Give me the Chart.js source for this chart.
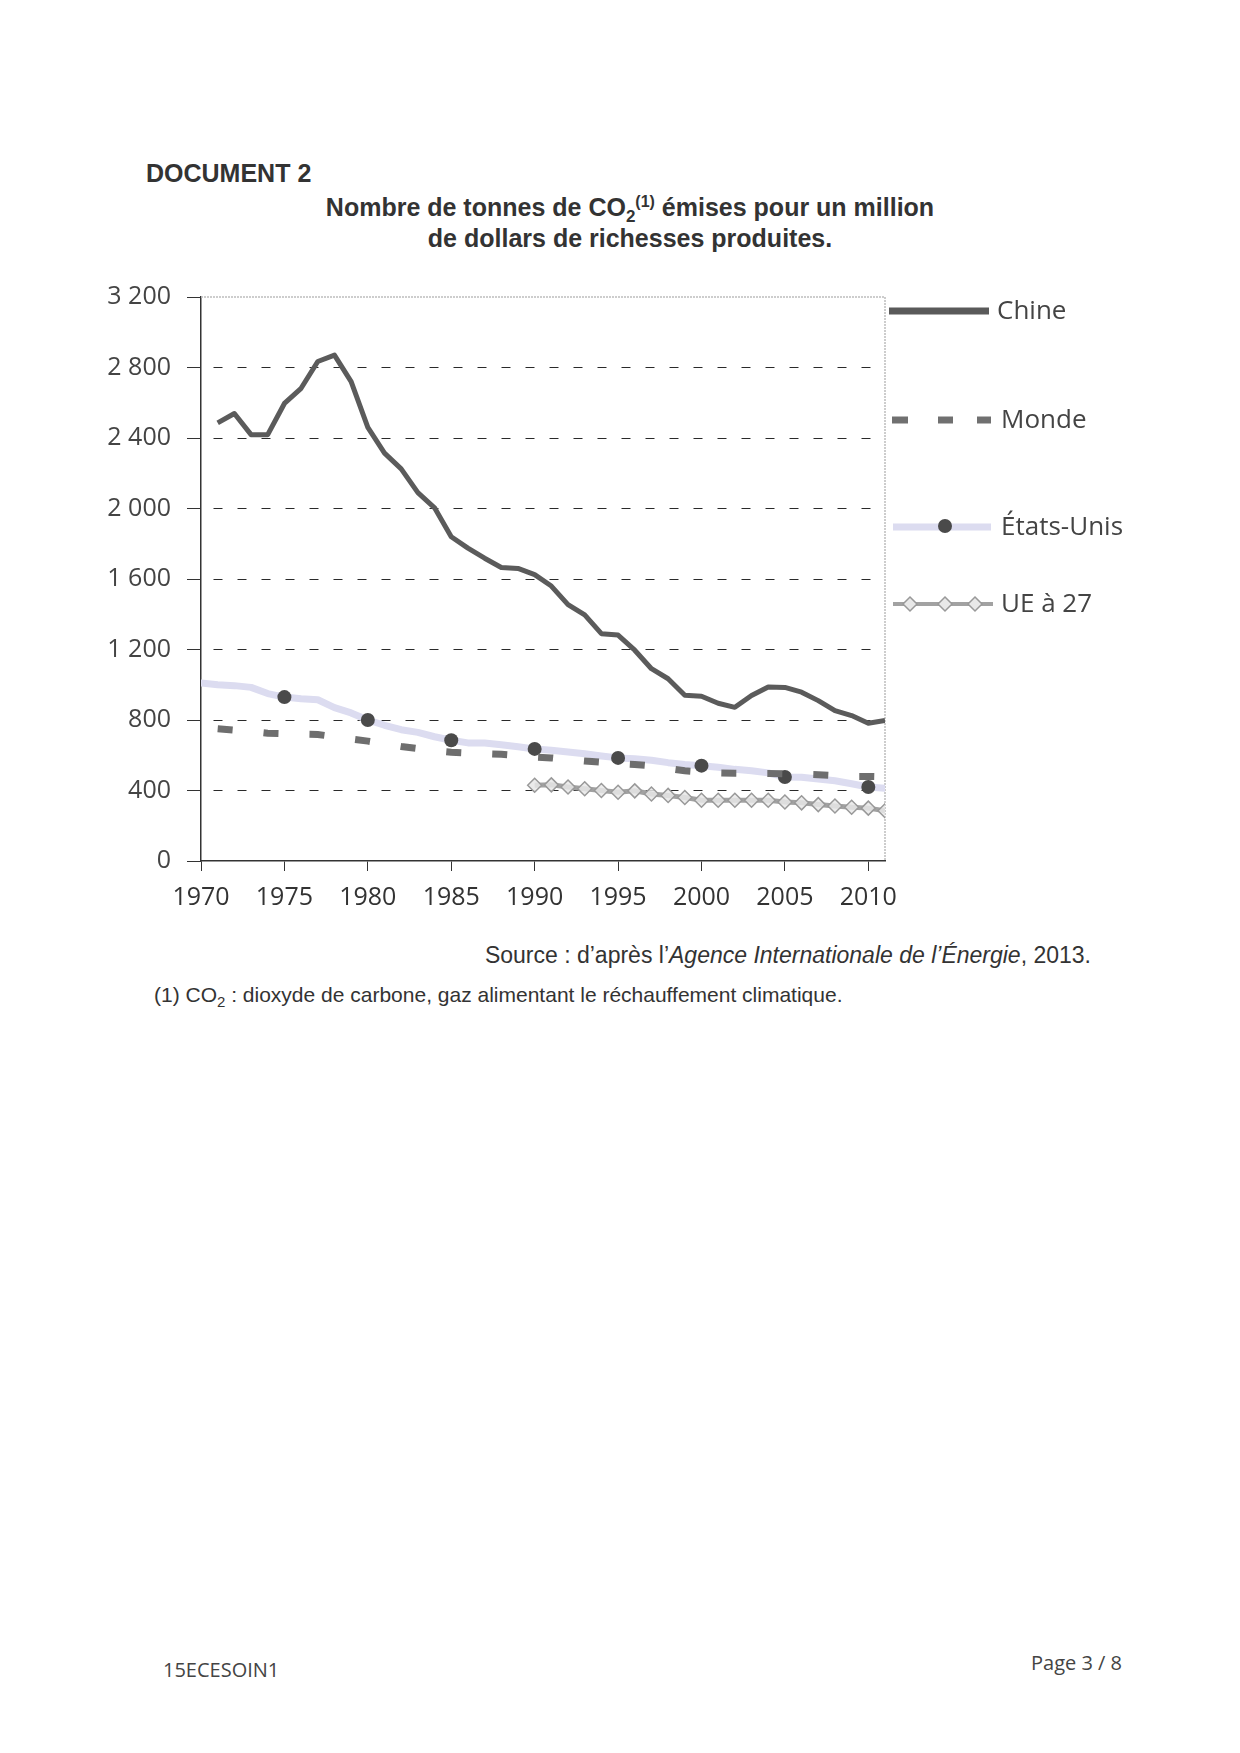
<!DOCTYPE html>
<html lang="fr">
<head>
<meta charset="utf-8">
<script src="https://cdn.jsdelivr.net/npm/chart.js@4/dist/chart.umd.min.js"></script>
<style>
  html, body { margin: 0; padding: 0; background: #fff; }
  body { width: 1240px; height: 1753px; position: relative; font-family: "Liberation Sans", Arial, sans-serif; color: #333; }
  .abs { position: absolute; white-space: nowrap; }
  sub, sup { line-height: 0; }
  #doc { left: 146px; top: 159px; font-size: 25px; font-weight: bold; }
  #title { left: 0; width: 1260px; top: 192px; font-size: 25px; font-weight: bold; text-align: center; line-height: 31px; }
  #chartBox { left: 90px; top: 266px; width: 825px; height: 655px; }
  .leg { position: absolute; font-family: "Open Sans", sans-serif; font-size: 26px; color: #444; white-space: nowrap; }
  .leg svg { position: absolute; left: 0; }
  .leg span { position: absolute; white-space: nowrap; }
  #source { right: 149px; top: 942px; font-size: 23px; }
  #note { left: 154px; top: 983px; font-size: 21px; }
  #code { left: 163px; top: 1656px; font-size: 20px; font-family: "Open Sans", sans-serif; color: #444; }
  #page { left: 1031px; top: 1649px; font-size: 20px; font-family: "Open Sans", sans-serif; color: #444; }
</style>
</head>
<body>
<div id="doc" class="abs">DOCUMENT 2</div>
<div id="title" class="abs">Nombre de tonnes de CO<sub style="font-size:17px">2</sub><sup style="font-size:16px">(1)</sup> émises pour un million<br>de dollars de richesses produites.</div>

<div id="chartBox" class="abs"><canvas id="co2Chart"></canvas></div>

<div id="legend"></div>

<div id="source" class="abs">Source : d’après l’<i>Agence Internationale de l’Énergie</i>, 2013.</div>
<div id="note" class="abs">(1) CO<sub style="font-size:15px">2</sub> : dioxyde de carbone, gaz alimentant le réchauffement climatique.</div>
<div id="code" class="abs">15ECESOIN1</div>
<div id="page" class="abs">Page 3 / 8</div>

<script>
const years = [1970, 1971, 1972, 1973, 1974, 1975, 1976, 1977, 1978, 1979,
  1980, 1981, 1982, 1983, 1984, 1985, 1986, 1987, 1988, 1989,
  1990, 1991, 1992, 1993, 1994, 1995, 1996, 1997, 1998, 1999,
  2000, 2001, 2002, 2003, 2004, 2005, 2006, 2007, 2008, 2009,
  2010, 2011];

const chine = [null, 2486, 2539, 2419, 2419, 2596, 2682, 2834, 2870, 2720,
  2460, 2314, 2225, 2090, 2004, 1840, 1775, 1718, 1665, 1660,
  1625, 1560, 1455, 1396, 1290, 1282, 1196, 1091, 1034, 940,
  935, 895, 872, 939, 987, 985, 958, 910, 853, 825,
  782, 797];

const monde = [null, 750, 742, 735, 725, 722, 720, 718, 705, 692,
  680, 665, 650, 638, 625, 617, 612, 609, 605, 598,
  590, 585, 575, 567, 560, 553, 548, 540, 525, 512,
  505, 500, 498, 497, 497, 495, 493, 490, 485, 480,
  480, 478];

const etatsUnis = [1010, 1000, 995, 985, 950, 930, 920, 915, 870, 840,
  800, 770, 745, 730, 705, 685, 670, 670, 660, 648,
  636, 628, 618, 608, 596, 585, 580, 572, 558, 548,
  541, 532, 520, 512, 500, 477, 475, 465, 455, 438,
  420, 412];

const ue27 = [null, null, null, null, null, null, null, null, null, null,
  null, null, null, null, null, null, null, null, null, null,
  430, 432, 420, 410, 400, 390, 398, 380, 372, 360,
  345, 345, 345, 345, 345, 335, 330, 320, 312, 305,
  300, 285];

// années où la courbe des États-Unis porte un point
const usMarkers = [1975, 1980, 1985, 1990, 1995, 2000, 2005, 2010];

const xTicks = [1970, 1975, 1980, 1985, 1990, 1995, 2000, 2005, 2010];
const yTicks = [0, 400, 800, 1200, 1600, 2000, 2400, 2800, 3200];

const points = arr => years.map((y, i) => ({ x: y, y: arr[i] }));
const fmt = v => String(v).replace(/\B(?=(\d{3})+(?!\d))/g, ' ');

// cadre gris clair en haut et à droite de la zone du graphique
const frame = {
  id: 'frame',
  beforeDatasetsDraw(chart) {
    const { ctx, chartArea: a } = chart;
    ctx.save();
    ctx.strokeStyle = '#bdbdbd';
    ctx.lineWidth = 1.5;
    ctx.setLineDash([2, 1]);
    ctx.beginPath();
    ctx.moveTo(a.left, a.top);
    ctx.lineTo(a.right, a.top);
    ctx.lineTo(a.right, a.bottom);
    ctx.stroke();
    ctx.restore();
  }
};

const tickFont = { family: '"Open Sans", sans-serif', size: 25 };

new Chart(document.getElementById('co2Chart'), {
  type: 'line',
  data: {
    datasets: [
      {
        label: 'Chine',
        data: points(chine),
        borderColor: '#5b5b5b',
        borderWidth: 5,
        borderJoinStyle: 'round',
        pointRadius: 0
      },
      {
        label: 'Monde',
        data: points(monde),
        borderColor: '#6e6e6e',
        borderWidth: 7,
        borderDash: [15, 31],
        borderCapStyle: 'butt',
        pointRadius: 0
      },
      {
        label: 'États-Unis',
        data: points(etatsUnis),
        borderColor: '#dcdcf0',
        borderWidth: 7,
        borderCapStyle: 'round',
        borderJoinStyle: 'round',
        pointRadius: c => (c.raw && usMarkers.includes(c.raw.x) ? 7 : 0),
        pointBackgroundColor: '#4a4a4a',
        pointBorderWidth: 0
      },
      {
        label: 'UE à 27',
        data: points(ue27),
        borderColor: '#a2a2a2',
        borderWidth: 5,
        pointStyle: 'rectRot',
        pointRadius: 7,
        pointBackgroundColor: 'rgba(232,232,232,0.85)',
        pointBorderColor: '#999999',
        pointBorderWidth: 1.5
      }
    ]
  },
  options: {
    responsive: true,
    maintainAspectRatio: false,
    animation: false,
    layout: { padding: { top: 0, right: 30, left: 0, bottom: 0 } },
    plugins: { legend: { display: false }, tooltip: { enabled: false } },
    scales: {
      x: {
        type: 'linear',
        min: 1970,
        max: 2011,
        afterBuildTicks: s => { s.ticks = xTicks.map(v => ({ value: v })); },
        afterFit: s => { s.height = 60; },
        ticks: { font: tickFont, color: '#333', padding: 12, maxRotation: 0, callback: v => String(v) },
        grid: { drawOnChartArea: false, tickLength: 10, tickColor: '#333' },
        border: { color: '#333', width: 1.5 }
      },
      y: {
        min: 0,
        max: 3200,
        afterBuildTicks: s => { s.ticks = yTicks.map(v => ({ value: v })); },
        afterFit: s => { s.width = 111; },
        ticks: { font: tickFont, color: '#444', padding: 16, callback: v => fmt(v) },
        grid: {
          color: c => (c.tick && (c.tick.value === 0 || c.tick.value === 3200) ? 'rgba(0,0,0,0)' : '#2a2a2a'),
          lineWidth: 1,
          tickLength: 14,
          tickColor: '#333'
        },
        border: { color: '#333', width: 1.5, dash: [9, 15], dashOffset: 12 }
      }
    }
  },
  plugins: [frame]
});

// légende à droite
const legendItems = [
  { label: 'Chine', top: 296, svg: '<line x1="0" y1="15" x2="100" y2="15" stroke="#5a5a5a" stroke-width="7"/>' },
  { label: 'Monde', top: 405, svg: '<line x1="3" y1="15" x2="19" y2="15" stroke="#707070" stroke-width="7"/><line x1="49" y1="15" x2="64" y2="15" stroke="#707070" stroke-width="7"/><line x1="88" y1="15" x2="102" y2="15" stroke="#707070" stroke-width="7"/>' },
  { label: 'États-Unis', top: 512, svg: '<line x1="4" y1="15" x2="102" y2="15" stroke="#dcdcf0" stroke-width="7"/><circle cx="56" cy="14" r="7" fill="#4a4a4a"/>' },
  { label: 'UE à 27', top: 589, svg: '<line x1="4" y1="15" x2="104" y2="15" stroke="#a2a2a2" stroke-width="4"/>' +
      [21, 56, 86].map(c => `<polygon points="${c},8 ${c + 7},15 ${c},22 ${c - 7},15" fill="#e8e8e8" stroke="#999" stroke-width="1.5"/>`).join('') }
];
const legend = document.getElementById('legend');
legendItems.forEach(it => {
  const d = document.createElement('div');
  d.className = 'leg';
  d.style.left = '889px';
  d.style.top = it.top + 'px';
  d.innerHTML = `<svg width="106" height="30" viewBox="0 0 106 30">${it.svg}</svg><span style="left:${it.label === 'Chine' ? 108 : 112}px;top:-5px">${it.label}</span>`;
  legend.appendChild(d);
});
</script>
</body>
</html>
